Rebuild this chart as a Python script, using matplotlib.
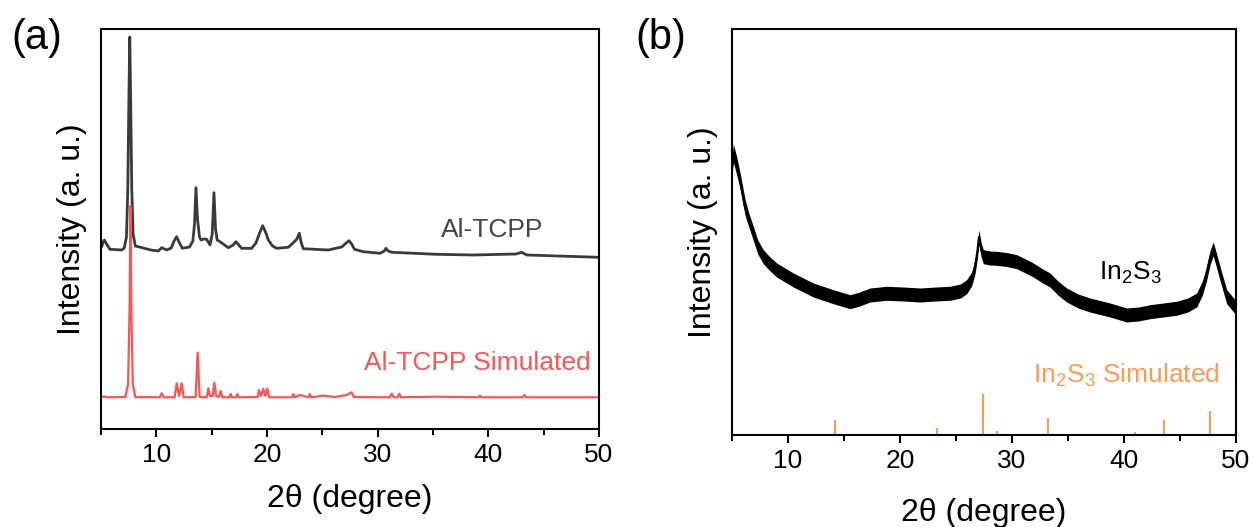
import matplotlib
matplotlib.use("Agg")
import matplotlib.pyplot as plt
import numpy as np

plt.rcParams['font.family'] = ['Liberation Sans', 'DejaVu Sans']
plt.rcParams['mathtext.fontset'] = 'custom'
plt.rcParams['mathtext.rm'] = 'Liberation Sans'
plt.rcParams['mathtext.default'] = 'regular'

# ---------------- Panel (a): Al-TCPP measured (read points) ----------------
altcpp_theta = [5.0, 5.06, 5.20, 5.30, 5.45, 5.81, 6.87, 7.10, 7.30, 7.42, 7.52, 7.60, 7.68, 7.78, 7.90, 8.10,
                8.37, 9.5, 10.18, 10.48, 10.94, 11.35, 11.60, 11.84, 12.05, 12.35, 13.0, 13.30, 13.45, 13.58, 13.72,
                13.90, 14.04, 14.30, 14.55, 14.85, 15.05, 15.21, 15.35, 15.50, 15.75, 16.50, 16.95, 17.20, 17.45, 17.71,
                18.62, 19.0, 19.30, 19.61, 19.90, 20.12, 20.50, 20.88, 21.92, 22.38, 22.70, 22.92, 23.10, 23.28,
                25.54, 26.75, 27.15, 27.41, 27.65, 27.90, 28.70, 30.21, 30.60, 30.75, 30.95, 31.27, 35.33, 38.64,
                42.5, 43.01, 43.47, 50.0]
altcpp_int = [182, 182.3, 187, 189, 186, 179.7, 179, 181, 192, 240, 330, 392, 330, 240, 195, 183,
              182.3, 179, 178, 181.3, 179, 181, 188, 192.3, 187, 180.7, 182, 188, 205, 241.3, 210,
              192, 189, 190, 189.7, 184, 195, 236.3, 200, 189, 187.3, 181.3, 184, 187.3, 184, 180.7,
              180.7, 186, 195, 203.3, 196, 189, 183, 180.7, 181.7, 186.3, 190, 195.7, 186, 180.3,
              179, 182, 186, 188.3, 185, 179.7, 177.3, 175.7, 178, 180.7, 178, 176.7, 174.7, 174,
              175, 176.7, 174, 171.7]

# ---------------- Panel (a): Al-TCPP simulated (read points) ----------------
sim_theta = [5.0, 5.3, 5.5, 7.2, 7.45, 7.58, 7.66, 7.74, 7.87, 8.1,
             10.3, 10.48, 10.66, 11.65, 11.84, 12.05, 12.29, 12.48,
             13.55, 13.73, 13.91, 14.55, 14.70, 14.85, 15.10, 15.24, 15.40, 15.65, 15.81, 15.97,
             16.6, 16.72, 16.85, 17.2, 17.32, 17.45, 19.15, 19.28, 19.45, 19.67, 19.85, 20.03, 20.2,
             22.25, 22.38, 22.5, 22.98, 23.75, 23.88, 24.0, 25.09, 26.14, 27.2, 27.65, 27.85,
             31.1, 31.27, 31.45, 31.8, 31.96, 32.1, 35.33, 39.1, 39.25, 39.4, 43.1, 43.25, 43.4, 50.0]
sim_int = [31.7, 32.5, 31.7, 32, 45, 120, 223, 120, 45, 32,
           31.7, 35.7, 31.7, 31.7, 45.7, 33, 45.7, 31.7,
           32, 76.3, 32, 31.7, 40.7, 33, 33, 46.3, 33, 32, 38, 31.7,
           31.7, 35, 31.7, 31.7, 35, 31.7, 32, 39, 33, 40.3, 33, 40.3, 31.7,
           31.7, 35, 31.7, 34, 31.7, 35, 31.7, 33.3, 32, 34, 36.7, 32,
           31.7, 35.3, 31.7, 31.7, 35.3, 31.7, 32.3, 31.7, 33.3, 31.7, 31.7, 34, 31.7, 31.7]

# ---------------- Panel (b): In2S3 measured (read points) ----------------
in2s3_theta = [5.0, 5.12, 5.40, 5.71, 6.16, 6.50, 6.90, 7.30, 7.79, 8.40, 8.99, 10.47, 12.26, 14.04, 15.54, 16.40,
               17.32, 18.81, 20.3, 21.79, 23.2, 24.46, 25.40, 25.95, 26.40, 26.70, 26.90, 27.05, 27.25, 27.44,
               28.0, 28.63, 29.5, 30.42, 31.20, 31.90, 32.60, 33.39, 34.10, 34.88, 35.90, 36.96, 38.75, 40.24,
               41.30, 42.32, 43.50, 44.70, 45.70, 46.49, 47.00, 47.38, 47.70, 47.97, 48.25, 48.57, 49.17, 49.91, 50.0]
in2s3_int = [268, 282, 270, 255, 228, 215, 201.7, 188, 178.3, 171, 165, 155, 145, 138.3, 133.3, 136,
             140, 141.7, 141, 140, 141, 141.7, 144, 148.3, 156, 168.3, 183, 198, 185, 178.3,
             177, 176.7, 175.5, 173.3, 169, 165, 160, 155, 147, 140, 134, 130, 125, 120,
             121, 123.3, 125, 126.7, 130, 135, 147, 161.7, 178, 186, 175, 161.7, 138.3, 128.3, 128]
in2s3_noise = [9, 9, 9, 8, 8, 7, 7, 7, 7, 7, 7, 7, 7, 7, 7, 7,
               7, 7, 7, 7, 7, 7, 7, 7, 7, 7, 7, 7, 7, 7,
               7, 7, 7, 7, 7, 7, 7, 7, 7, 7, 7, 7, 7, 7,
               7, 7, 7, 7, 7, 7, 7, 7, 7, 7, 7, 7, 7, 7, 7]

# ---------------- Panel (b): In2S3 simulated sticks ----------------
stick_theta = [14.17, 23.27, 27.38, 28.63, 33.25, 36.28, 40.98, 43.60, 47.70, 49.95]
stick_int = [14.7, 6.7, 40.7, 4.0, 16.7, 1.0, 3.0, 14.7, 23.7, 2.0]

xticks_major = [10, 20, 30, 40, 50]
xticks_minor = [5, 15, 25, 35, 45]

W, H = 1253, 527
fig = plt.figure(figsize=(W / 100, H / 100), dpi=100)

axA = fig.add_axes([101 / W, 1 - 429 / H, 498 / W, 400 / H])
axB = fig.add_axes([732 / W, 1 - 435 / H, 504 / W, 406 / H])

black_a = '#3a3a3a'
red = '#ff5353'
orange = '#ff9a55'

axA.plot(altcpp_theta, altcpp_int, color=black_a, lw=2.0)
axA.plot(sim_theta, sim_int, color=red, lw=1.6)
axA.set_ylim(0, 400)

th = np.array(in2s3_theta)
iv = np.array(in2s3_int)
nz = np.array(in2s3_noise)
axB.fill_between(th, iv - nz, iv + nz, color='black', lw=0)
axB.plot(th, iv, color='black', lw=1.5)
axB.vlines(stick_theta, 0, stick_int, color=orange, lw=1.5)
axB.set_ylim(0, 406)

for ax, lp in ((axA, 12), (axB, 18)):
    ax.set_xlim(5, 50)
    ax.set_xticks(xticks_major)
    ax.set_xticks(xticks_minor, minor=True)
    ax.set_yticks([])
    ax.tick_params(axis='x', which='major', direction='out', length=6, width=1.4,
                   labelsize=19, pad=4)
    ax.tick_params(axis='x', which='minor', direction='out', length=4, width=1.4)
    for s in ax.spines.values():
        s.set_linewidth(1.5)
    ax.set_xlabel('2θ (degree)', fontsize=23, labelpad=lp)
    ax.set_ylabel('Intensity (a. u.)', fontsize=23, labelpad=10)

# pixel-based text placement (y measured from top)
def ptext(x, y, s, **kw):
    fig.text(x / W, 1 - y / H, s, ha='center', va='center', **kw)

ptext(492, 230, 'Al-TCPP', fontsize=19, color='#444444')
ptext(477, 363, 'Al-TCPP Simulated', fontsize=19, color=red)
ptext(1130, 273, 'In$_2$S$_3$', fontsize=19, color='black')
ptext(1126, 375, 'In$_2$S$_3$ Simulated', fontsize=19, color=orange)
ptext(37, 38, '(a)', fontsize=30, color='black')
ptext(661, 38, '(b)', fontsize=30, color='black')

fig.savefig('out.png', dpi=100)
